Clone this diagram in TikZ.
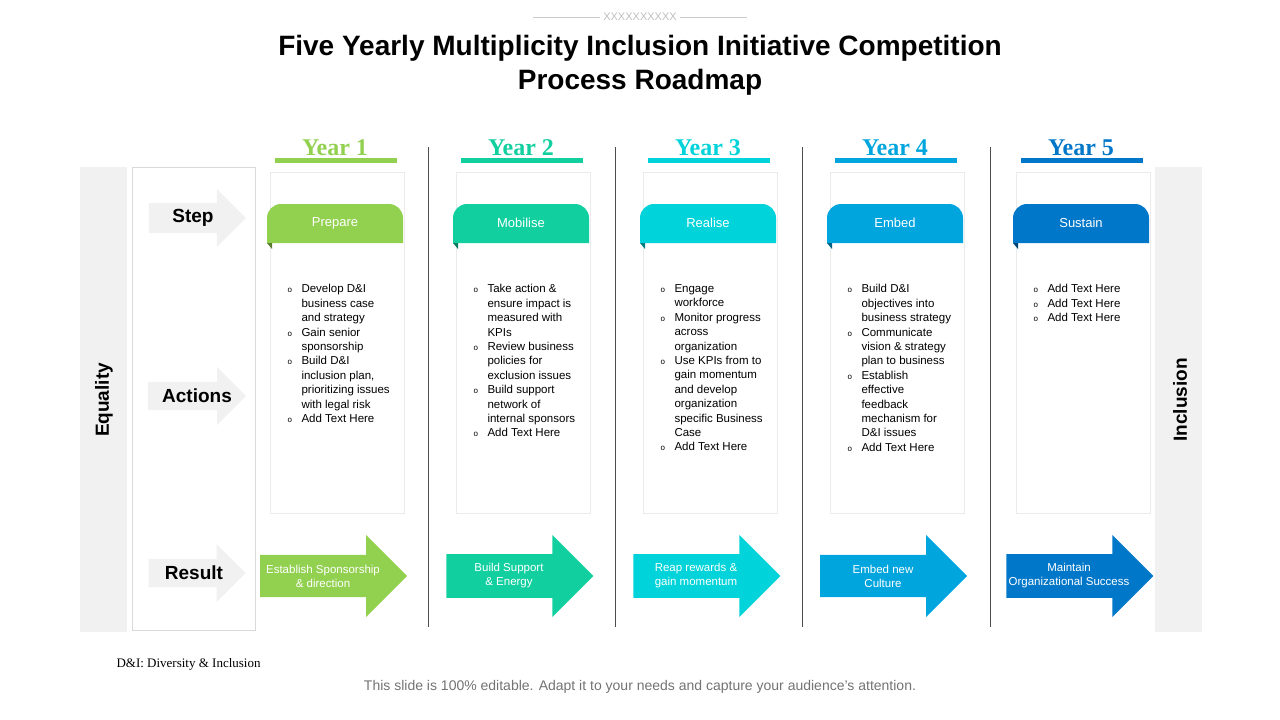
\documentclass[tikz,border=0pt]{standalone}
\usepackage{fontspec}
\setmainfont{Liberation Sans}
\newfontfamily\yearfont{Liberation Serif}
\usetikzlibrary{positioning,shapes.arrows}
\definecolor{cA}{HTML}{92D050}
\definecolor{cB}{HTML}{12CFA0}
\definecolor{cC}{HTML}{00D3D9}
\definecolor{cD}{HTML}{00A5DE}
\definecolor{cE}{HTML}{0077C8}
\definecolor{band}{HTML}{F1F1F1}
\tikzset{
	card/.style={draw=black!8, minimum width=134pt, minimum height=341pt, anchor=north},
	year/.style={font=\yearfont\bfseries\fontsize{24}{26}\selectfont},
	grayarrow/.style={single arrow, fill=band, minimum height=97pt, minimum width=58pt,
		single arrow head extend=14pt, inner xsep=0pt, inner ysep=6pt,
		font=\bfseries\fontsize{19}{21}\selectfont, align=center},
	resarrow/.style={single arrow, minimum height=147pt, minimum width=82pt,
		single arrow head extend=19pt, inner xsep=0pt, inner ysep=9pt, text=white,
		font=\fontsize{11.5}{14}\selectfont, align=center},
	bullets/.style={anchor=north west, font=\fontsize{11.5}{14.4}\selectfont, align=left},
}
\newcommand{\bl}{\makebox[14pt][l]{\fontsize{8}{8}\selectfont o}}
\newcommand{\nb}{\makebox[14pt][l]{}}
\begin{document}
\begin{tikzpicture}[x=1pt,y=-1pt]
\useasboundingbox (0,0) rectangle (1280,720);
% heading
\node[text=black!25, font=\fontsize{11}{11}\selectfont] (deco) at (640,17) {XXXXXXXXXX};
\draw[black!20] (533,17) -- (deco.west) (deco.east) -- (747,17);
\node[font=\bfseries\fontsize{28}{34}\selectfont, align=center] (title) at (640,65)
	{Five Yearly Multiplicity Inclusion Initiative Competition\\Process Roadmap};
% side bands
\fill[band] (80,167) rectangle (127,632);
\fill[band] (1155,167) rectangle (1202,632);
\draw[black!15] (132,167) rectangle (255,630);
\node[rotate=90, font=\bfseries\fontsize{19}{21}\selectfont] (eq) at (104,400) {Equality};
\node[rotate=90, font=\bfseries\fontsize{19}{21}\selectfont] (inc) at (1180,400) {Inclusion};
\node[grayarrow] (step) at (190,218) {\hspace*{6pt}Step};
\node[grayarrow] (act) at (190,396) {\hspace*{14pt}Actions};
\node[grayarrow] (res) at (190,573) {\hspace*{8pt}Result};
% dividers
\foreach \x in {428,615,802,990} \draw[black!70] (\x,147) -- (\x,627);
% columns
\foreach \i/\c/\col/\stp/\txt/\res in {
	1/337/cA/Prepare/{\bl Develop D\&I\\\nb business case\\\nb and strategy\\\bl Gain senior\\\nb sponsorship\\\bl Build D\&I\\\nb inclusion plan,\\\nb prioritizing issues\\\nb with legal risk\\\bl Add Text Here}/{Establish Sponsorship\\\& direction},
	2/523/cB/Mobilise/{\bl Take action \&\\\nb ensure impact is\\\nb measured with\\\nb KPIs\\\bl Review business\\\nb policies for\\\nb exclusion issues\\\bl Build support\\\nb network of\\\nb internal sponsors\\\bl Add Text Here}/{Build Support\\\& Energy},
	3/710/cC/Realise/{\bl Engage\\\nb workforce\\\bl Monitor progress\\\nb across\\\nb organization\\\bl Use KPIs from to\\\nb gain momentum\\\nb and develop\\\nb organization\\\nb specific Business\\\nb Case\\\bl Add Text Here}/{Reap rewards \&\\gain momentum},
	4/897/cD/Embed/{\bl Build D\&I\\\nb objectives into\\\nb business strategy\\\bl Communicate\\\nb vision \& strategy\\\nb plan to business\\\bl Establish\\\nb effective\\\nb feedback\\\nb mechanism for\\\nb D\&I issues\\\bl Add Text Here}/{Embed new\\Culture},
	5/1083/cE/Sustain/{\bl Add Text Here\\\bl Add Text Here\\\bl Add Text Here}/{Maintain\\Organizational Success}} {
	\node[year, text=\col] (yr\i) at (\c-2,148) {Year \i};
	\fill[\col] (\c-62,158) rectangle (\c+60,163);
	\node[card] (card\i) at (\c,172) {};
	\fill[\col] (\c-70,243) -- (\c-70,218) arc (180:270:14) -- (\c+52,204) arc (270:360:14) -- (\c+66,243) -- cycle;
	\fill[\col!60!black] (\c-70,243) -- (\c-65,243) -- (\c-65,249) -- cycle;
	\node[text=white, font=\fontsize{13}{15}\selectfont] (stp\i) at (\c-2,223) {\stp};
	\node[bullets] (txt\i) at (\c-53,281) {\txt};
	\node[resarrow, fill=\col] (res\i) at (\c-14,576) {\res};
}
% notes
\node[font=\yearfont\fontsize{13}{15}\selectfont, anchor=west] (note) at (113,664) {D\&I: Diversity \& Inclusion};
\node[text=black!55, font=\fontsize{14}{16}\selectfont] (foot) at (640,687)
	{This slide is 100\% editable. Adapt it to your needs and capture your audience's attention.};
\end{tikzpicture}
\end{document}
